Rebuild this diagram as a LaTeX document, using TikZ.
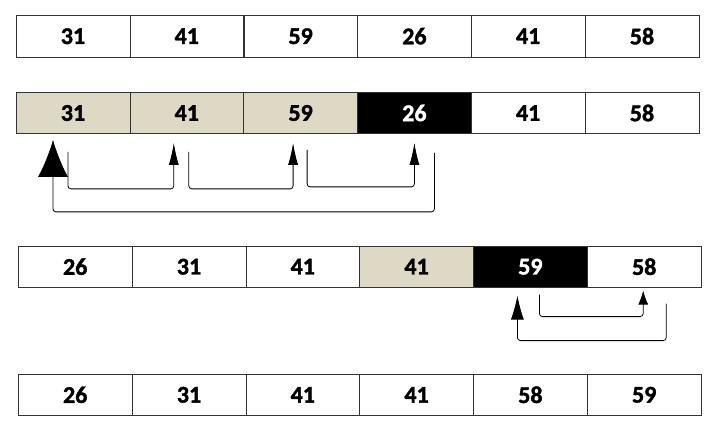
\documentclass[tikz,border=0pt]{standalone}
\usepackage{fontspec}
\setmainfont{Carlito}[BoldFont={Carlito Bold},BoldFeatures={FakeBold=1.5}]
\usetikzlibrary{matrix,arrows.meta}
\definecolor{sortedtan}{HTML}{DDD9C4}
\begin{document}
\begin{tikzpicture}[x=1pt,y=1pt]
  \tikzstyle{every node}=[font=\fontsize{24}{28}\selectfont\bfseries]
  \tikzstyle{cell}=[draw=black!80,minimum width=113.8pt,minimum height=41.4pt,inner sep=0pt]
  \tikzstyle{sortedcell}=[cell,fill=sortedtan]
  \tikzstyle{keycell}=[cell,fill=black,text=white]
  \tikzstyle{moveline}=[line width=0.8pt,rounded corners=3pt]
  \useasboundingbox (0,0) rectangle (721,-441);
  % start
  \matrix [column sep={113.8pt,between origins},nodes=cell] at (357.5,-36.2) {
    \node (a1) {31}; & \node (a2) {41}; & \node (a3) {59}; &
    \node (a4) {26}; & \node (a5) {41}; & \node (a6) {58}; \\
  };
  % insert 26
  \matrix [column sep={113.8pt,between origins},nodes=cell] at (357.5,-113) {
    \node[sortedcell] (b1) {31}; & \node[sortedcell] (b2) {41}; & \node[sortedcell] (b3) {59}; &
    \node[keycell] (b4) {26}; & \node (b5) {41}; & \node (b6) {58}; \\
  };
  % insert 58
  \matrix [column sep={113.8pt,between origins},nodes=cell] at (359.7,-266.7) {
    \node (c1) {26}; & \node (c2) {31}; & \node (c3) {41}; &
    \node[sortedcell] (c4) {41}; & \node[keycell] (c5) {59}; & \node (c6) {58}; \\
  };
  % result
  \matrix [column sep={113.8pt,between origins},nodes=cell] at (359.7,-394.8) {
    \node (d1) {26}; & \node (d2) {31}; & \node (d3) {41}; &
    \node (d4) {41}; & \node (d5) {58}; & \node (d6) {59}; \\
  };
  \draw [moveline,-{Latex[length=22pt,width=10pt]}] ([xshift=-5pt,yshift=-18pt]b1.south) -- ++(0,-37) -| ([xshift=-13pt,yshift=-9pt]b2.south);
  \draw [moveline,-{Latex[length=22pt,width=10pt]}] ([xshift=2pt,yshift=-18pt]b2.south) -- ++(0,-37) -| ([xshift=-7.5pt,yshift=-9pt]b3.south);
  \draw [moveline,-{Latex[length=22pt,width=10pt]}] ([xshift=6.5pt,yshift=-16pt]b3.south) -- ++(0,-37) -| ([yshift=-9pt]b4.south);
  \draw [moveline,-{Latex[length=37pt,width=30pt]}] ([xshift=20pt,yshift=-19pt]b4.south) -- ++(0,-59) -| ([xshift=-20pt,yshift=-6pt]b1.south);
  \draw [moveline,-{Latex[length=14pt,width=10pt]}] ([xshift=9pt,yshift=-7pt]c5.south) -- ++(0,-22) -| ([xshift=-1pt,yshift=-3pt]c6.south);
  \draw [moveline,-{Latex[length=24pt,width=13pt]}] ([xshift=22pt,yshift=-16pt]c6.south) -- ++(0,-37) -| ([xshift=-13pt,yshift=-8pt]c5.south);
\end{tikzpicture}
\end{document}
